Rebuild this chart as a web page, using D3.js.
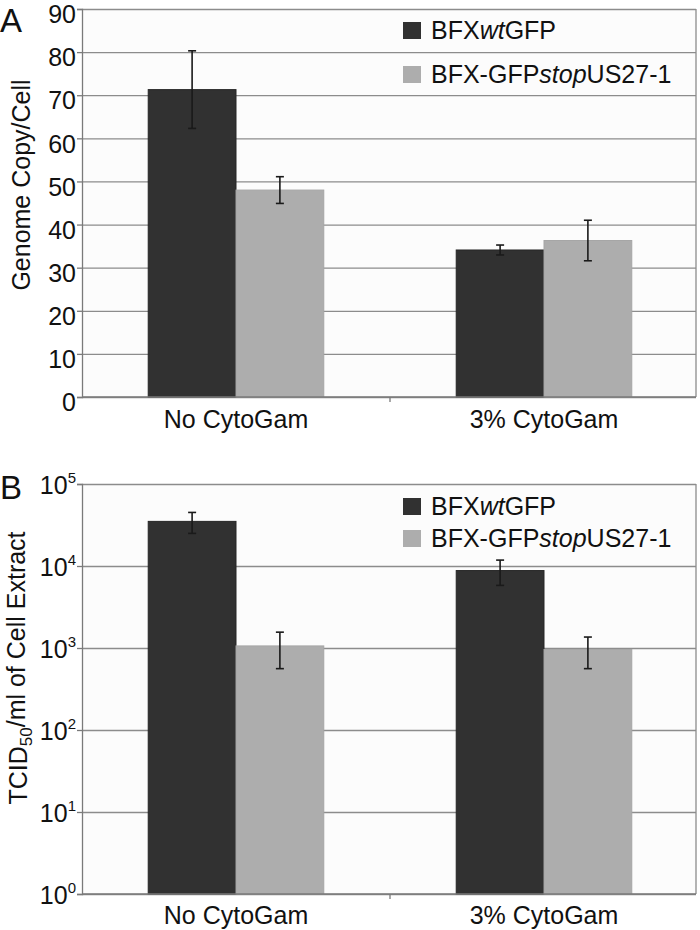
<!DOCTYPE html>
<html><head><meta charset="utf-8">
<script src="https://cdn.jsdelivr.net/npm/d3@7"></script>
<style>
body{margin:0;background:#fff;}
text{font-family:"Liberation Sans",Arial,Helvetica,sans-serif;fill:#111;}
</style>
</head><body>
<svg id="chart" width="700" height="930"></svg>
<script>
// ---------- data ----------
const categories = ["No CytoGam", "3% CytoGam"];
const seriesNames = ["BFXwtGFP", "BFX-GFPstopUS27-1"];
const legendParts = [
  [["BFX", false], ["wt", true], ["GFP", false]],
  [["BFX-GFP", false], ["stop", true], ["US27-1", false]]
];
const genomeWt = [71.3, 34.1];
const genomeWtErr = [9.0, 1.15];
const genomeStop = [48.0, 36.3];
const genomeStopErr = [3.1, 4.7];
const genomeTicks = [0, 10, 20, 30, 40, 50, 60, 70, 80, 90];
const titerWt = [35000, 8800];
const titerWtErr = [10000, 3000];
const titerStop = [1060, 960];
const titerStopErr = [500, 400];
const titerTicks = [1, 10, 100, 1000, 10000, 100000];
const titerExponents = ["0", "1", "2", "3", "4", "5"];
const colors = ["#313131", "#adadad"];

// ---------- layout ----------
const svg = d3.select("#chart");
const L = 82, R = 696, FS = 25;
const FF = "'Liberation Sans', Arial, sans-serif";

function panel(opt) {
  const g = svg.append("g");
  const y = opt.y;
  const top = y.range()[1], bottom = y.range()[0];
  const x0 = d3.scaleBand(categories, [L, 698]).paddingInner(0.43).paddingOuter(0.215);
  const x1 = d3.scaleBand([0, 1], [0, x0.bandwidth()]);

  g.append("rect").attr("x", L).attr("y", top).attr("width", R - L).attr("height", bottom - top)
    .attr("fill", "#fcfcfc");

  // gridlines
  const grid = g.append("g").attr("transform", `translate(${L},0)`)
    .call(d3.axisLeft(y).tickValues(opt.ticks).tickSize(-(R - L)).tickFormat(""));
  grid.select(".domain").remove();
  grid.selectAll("line").attr("stroke", "#8c8c8c").attr("stroke-width", 1.3);

  // right border
  g.append("line").attr("x1", R).attr("x2", R).attr("y1", top).attr("y2", bottom)
    .attr("stroke", "#8c8c8c").attr("stroke-width", 1.3);

  // bars
  const rows = categories.map((c, i) => ({c, vals: [
    {s: 0, v: opt.a[i], e: opt.ae[i]}, {s: 1, v: opt.b[i], e: opt.be[i]}]}));
  const grp = g.selectAll(".grp").data(rows).join("g")
    .attr("transform", d => `translate(${x0(d.c)},0)`);
  grp.selectAll("rect").data(d => d.vals).join("rect")
    .attr("x", d => x1(d.s)).attr("width", x1.bandwidth())
    .attr("y", d => y(d.v)).attr("height", d => bottom - y(d.v))
    .attr("fill", d => colors[d.s])
    .attr("stroke", d => d.s === 0 ? "#262626" : "#a6a6a6").attr("stroke-width", 1);
  // error bars
  const eb = grp.selectAll(".eb").data(d => d.vals).join("g")
    .attr("transform", d => `translate(${x1(d.s) + x1.bandwidth() / 2},0)`)
    .attr("stroke", "#1a1a1a").attr("stroke-width", 1.6);
  eb.append("line").attr("y1", d => y(d.v + d.e)).attr("y2", d => y(d.v - d.e));
  eb.append("line").attr("x1", -4).attr("x2", 4).attr("y1", d => y(d.v + d.e)).attr("y2", d => y(d.v + d.e));
  eb.append("line").attr("x1", -4).attr("x2", 4).attr("y1", d => y(d.v - d.e)).attr("y2", d => y(d.v - d.e));

  // y axis
  const ya = g.append("g").attr("transform", `translate(${L},0)`)
    .call(d3.axisLeft(y).tickValues(opt.ticks).tickSize(5).tickPadding(1)
      .tickFormat(opt.fmt ? "" : d3.format("d")));
  ya.select(".domain").attr("stroke", "#7a7a7a").attr("stroke-width", 1.3);
  ya.selectAll(".tick line").attr("stroke", "#7a7a7a").attr("stroke-width", 1.3);
  ya.selectAll(".tick text").attr("font-size", FS).attr("fill", "#111")
    .attr("font-family", FF).attr("dy", opt.tickDy);
  if (opt.fmt) {
    ya.selectAll(".tick text").each(function(d, i) {
      const t = d3.select(this);
      t.append("tspan").text("10");
      t.append("tspan").attr("font-size", 15).attr("dy", "-0.75em").text(titerExponents[i]);
    });
  }

  // x axis
  const xa = g.append("g").attr("transform", `translate(0,${bottom})`)
    .call(d3.axisBottom(x0).tickSize(0).tickPadding(opt.xpad));
  xa.select(".domain").attr("d", `M${L},0H${R}`).attr("stroke", "#7a7a7a").attr("stroke-width", 1.3);
  xa.selectAll(".tick text").attr("font-size", FS).attr("fill", "#111")
    .attr("font-family", FF);
  const mid = (x0(categories[0]) + x0.bandwidth() + x0(categories[1])) / 2;
  xa.append("line").attr("x1", mid).attr("x2", mid).attr("y1", 0).attr("y2", 5)
    .attr("stroke", "#7a7a7a").attr("stroke-width", 1.3);

  // legend
  const lg = g.append("g");
  seriesNames.forEach((s, i) => {
    const by = opt.legY[i];
    lg.append("rect").attr("x", 403).attr("y", by - 17).attr("width", 18).attr("height", 17)
      .attr("fill", colors[i]);
    const t = lg.append("text").attr("x", 431).attr("y", by).attr("font-size", FS);
    legendParts[i].forEach(([p, it]) => t.append("tspan").attr("font-style", it ? "italic" : "normal").text(p));
  });

  // panel letter
  g.append("text").attr("x", 0).attr("y", opt.letterY).attr("font-size", 33).text(opt.letter);
  return g;
}

const yA = d3.scaleLinear([0, 90], [397, 9]);
const gA = panel({y: yA, ticks: genomeTicks, a: genomeWt, ae: genomeWtErr, b: genomeStop, be: genomeStopErr,
  xpad: 13, legY: [39, 83], letter: "A", letterY: 32, tickDy: "0.55em"});
gA.append("text").attr("transform", "translate(30,185) rotate(-90)").attr("text-anchor", "middle")
  .attr("font-size", FS).text("Genome Copy/Cell");

const yB = d3.scaleLog([1, 1e5], [894, 484]);
const gB = panel({y: yB, ticks: titerTicks, fmt: true, a: titerWt, ae: titerWtErr, b: titerStop, be: titerStopErr,
  xpad: 12, legY: [515, 547], letter: "B", letterY: 499, tickDy: "0.38em"});
const tb = gB.append("text").attr("transform", "translate(27,668) rotate(-90)").attr("text-anchor", "middle")
  .attr("font-size", FS);
tb.append("tspan").text("TCID");
tb.append("tspan").attr("font-size", 17).attr("dy", "0.3em").text("50");
tb.append("tspan").attr("dy", "-0.3em").text("/ml of Cell Extract");
</script>
</body></html>
